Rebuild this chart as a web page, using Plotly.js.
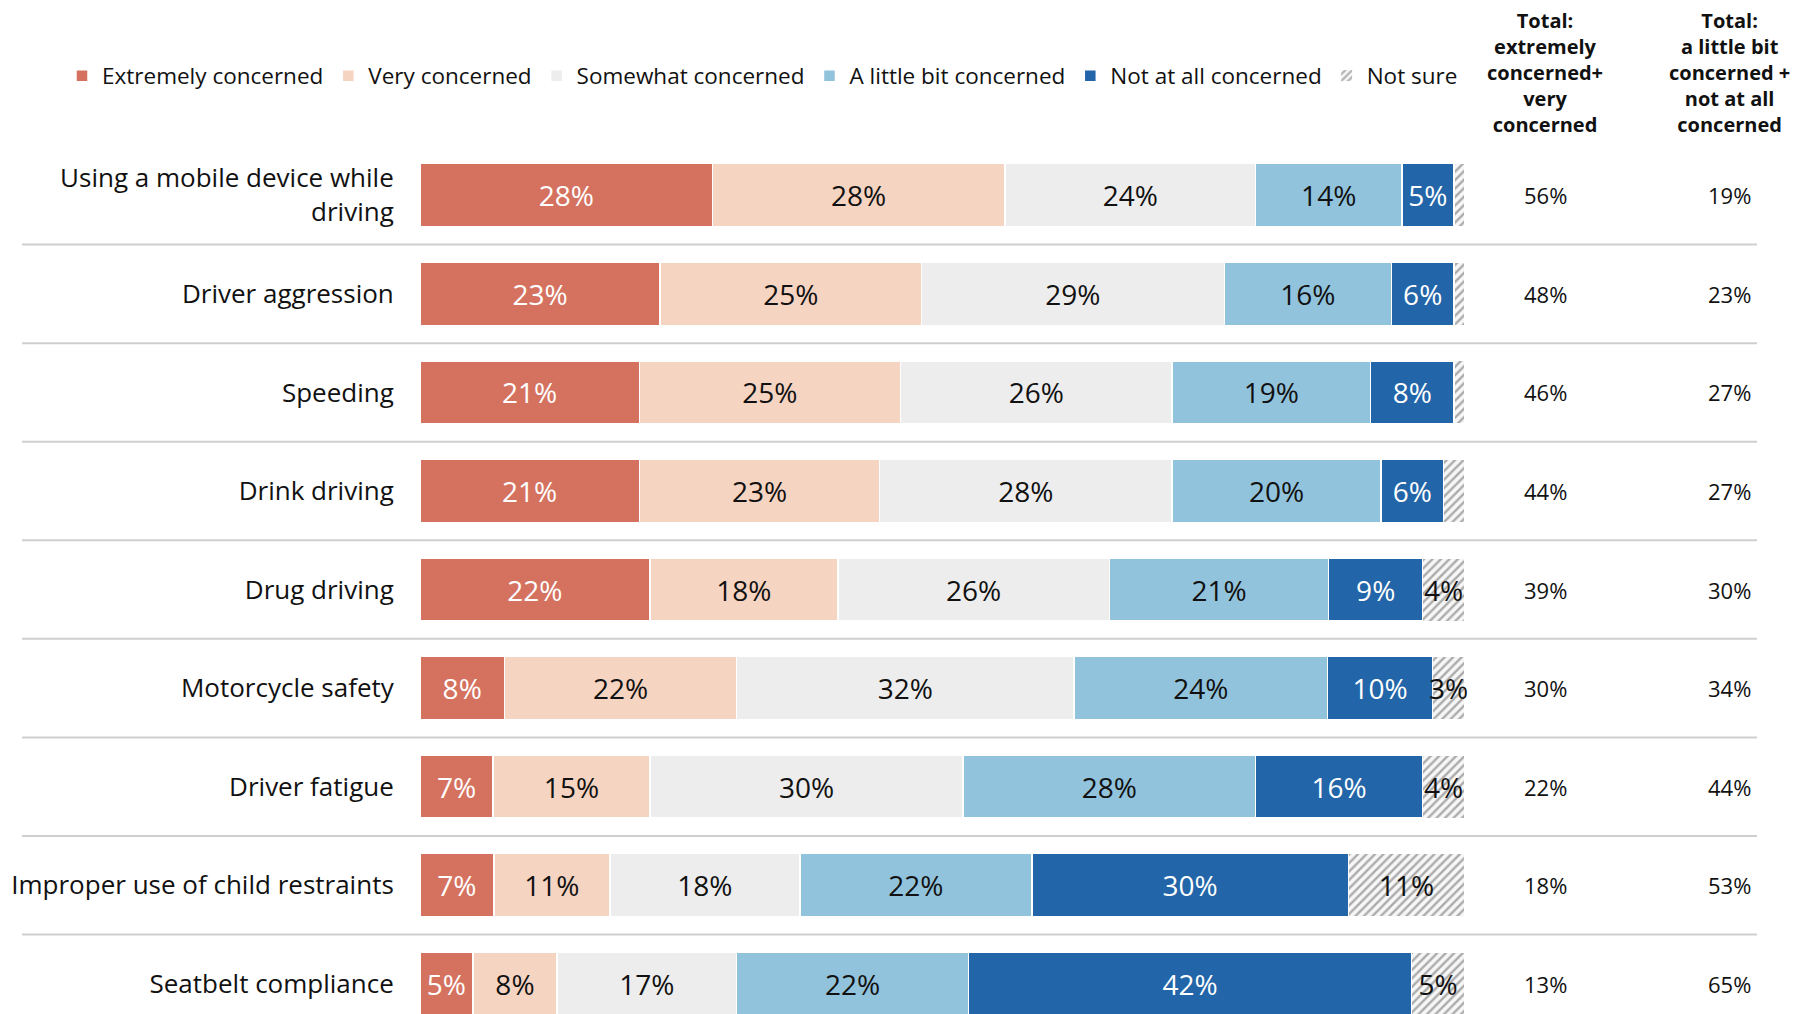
<!DOCTYPE html>
<html>
<head>
<meta charset="utf-8">
<script src="https://cdn.plot.ly/plotly-3.0.1.min.js"></script>
<style>html,body{margin:0;padding:0;background:#fff;}#chart{width:1798px;height:1014px;}</style>
</head>
<body>
<div id="chart"></div>
<script>
const categories = [
  "Using a mobile device while<br>driving",
  "Driver aggression",
  "Speeding",
  "Drink driving",
  "Drug driving",
  "Motorcycle safety",
  "Driver fatigue",
  "Improper use of child restraints",
  "Seatbelt compliance"
];
const seriesNames = ["Extremely concerned", "Very concerned", "Somewhat concerned", "A little bit concerned", "Not at all concerned", "Not sure"];
const extremely = [28, 23, 21, 21, 22, 8, 7, 7, 5];
const very = [28, 25, 25, 23, 18, 22, 15, 11, 8];
const somewhat = [24, 29, 26, 28, 26, 32, 30, 18, 17];
const littleBit = [14, 16, 19, 20, 21, 24, 28, 22, 22];
const notAtAll = [5, 6, 8, 6, 9, 10, 16, 30, 42];
const notSure = [1, 1, 1, 2, 4, 3, 4, 11, 5];
const totalConcerned = [56, 48, 46, 44, 39, 30, 22, 18, 13];
const totalNotConcerned = [19, 23, 27, 27, 30, 34, 44, 53, 65];
const header1 = "Total:<br>extremely<br>concerned+<br>very<br>concerned";
const header2 = "Total:<br>a little bit<br>concerned +<br>not at all<br>concerned";

const FONT = "Open Sans, Lato, sans-serif";
const colors = ["#D5725F", "#F6D4C2", "#EDEDED", "#92C3DC", "#2265A8", "#FFFFFF"];
const textColors = ["#ffffff", "#111111", "#111111", "#111111", "#ffffff", "#111111"];
const allSeries = [extremely, very, somewhat, littleBit, notAtAll, notSure];

const traces = allSeries.map((vals, i) => {
  const t = {
    type: "bar",
    orientation: "h",
    name: seriesNames[i],
    x: vals,
    y: categories,
    text: vals.map(v => v >= 3 ? v + "%" : ""),
    textposition: "inside",
    insidetextanchor: "middle",
    textangle: 0,
    constraintext: "none",
    cliponaxis: false,
    textfont: {family: FONT, size: 28, color: textColors[i]},
    marker: {color: colors[i], line: {color: "#ffffff", width: 1.5}},
    hoverinfo: "skip"
  };
  if (i === 5) {
    t.marker.pattern = {shape: "/", fgcolor: "#ABABAB", bgcolor: "#F7F7F7", size: 6, solidity: 0.4};
    t.marker.line = {color: "#ffffff", width: 1};
  }
  return t;
});

const PL = 420, PR = 1465, PW = PR - PL;
const px2paper = p => (p - PL) / PW;

const annotations = [];
annotations.push({xref: "paper", yref: "paper", x: px2paper(1545), y: (1014 - 73) / 868, xanchor: "center", yanchor: "middle",
  text: "<b>" + header1 + "</b>", showarrow: false, align: "center", font: {family: FONT, size: 20, color: "#111"}});
annotations.push({xref: "paper", yref: "paper", x: px2paper(1729), y: (1014 - 73) / 868, xanchor: "center", yanchor: "middle",
  text: "<b>" + header2 + "</b>", showarrow: false, align: "center", font: {family: FONT, size: 20, color: "#111"}});
categories.forEach((c, i) => {
  annotations.push({xref: "paper", yref: "y", x: px2paper(1545), y: c, xanchor: "center", yanchor: "middle",
    text: totalConcerned[i] + "%", showarrow: false, font: {family: FONT, size: 22, color: "#111"}});
  annotations.push({xref: "paper", yref: "y", x: px2paper(1729), y: c, xanchor: "center", yanchor: "middle",
    text: totalNotConcerned[i] + "%", showarrow: false, font: {family: FONT, size: 22, color: "#111"}});
});

const shapes = [];
for (let k = 0; k < categories.length - 1; k++) {
  shapes.push({type: "line", xref: "paper", yref: "y", x0: px2paper(22), x1: px2paper(1757), y0: k + 0.5, y1: k + 0.5,
    line: {color: "#CFCFCF", width: 2}, layer: "below"});
}

const layout = {
  width: 1798, height: 1014,
  margin: {l: PL, r: 1798 - PR, t: 146, b: 0, pad: 0},
  paper_bgcolor: "#ffffff", plot_bgcolor: "#ffffff",
  barmode: "stack", barnorm: "percent", bargap: 0.36,
  font: {family: FONT, color: "#111"},
  xaxis: {range: [0, 100.05], visible: false, fixedrange: true},
  yaxis: {type: "category", range: [8.306, -0.5], showgrid: false, zeroline: false, showline: false,
    ticks: "outside", ticklen: 20, tickcolor: "rgba(0,0,0,0)",
    tickfont: {family: FONT, size: 26, color: "#111"}, fixedrange: true},
  showlegend: true,
  legend: {orientation: "h", x: px2paper(62), y: (1014 - 76) / 868, xanchor: "left", yanchor: "middle",
    font: {family: FONT, size: 22.5, color: "#111"}, traceorder: "normal", itemwidth: 30, tracegroupgap: 0},
  annotations: annotations,
  shapes: shapes
};

Plotly.newPlot("chart", traces, layout, {displayModeBar: false, staticPlot: true});
</script>
</body>
</html>
